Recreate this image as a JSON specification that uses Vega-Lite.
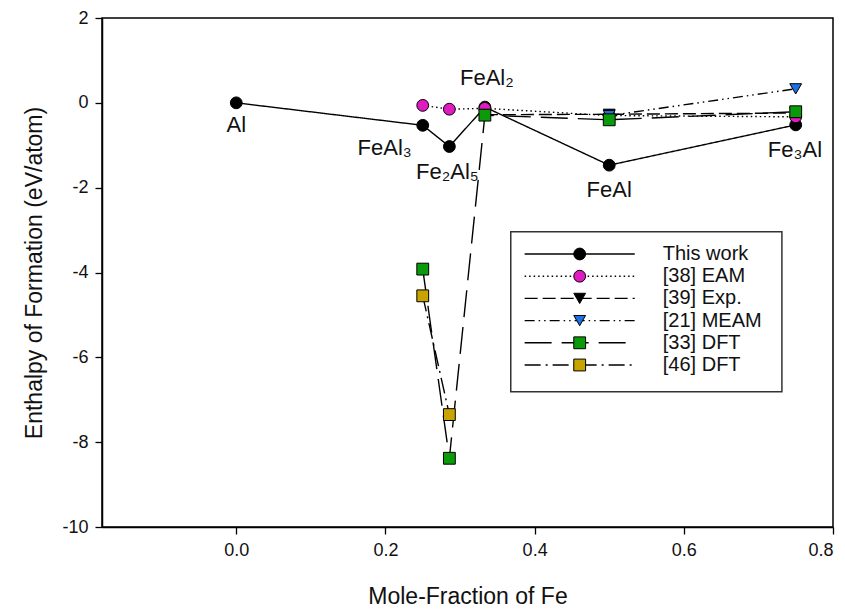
{
  "$schema": "https://vega.github.io/schema/vega-lite/v6.json",
  "width": 731,
  "height": 509,
  "autosize": {"type": "none"},
  "padding": {"left": 102, "top": 18, "right": 12, "bottom": 86},
  "background": "white",
  "config": {
    "view": {"stroke": "black", "strokeWidth": 1.5},
    "font": "Liberation Sans",
    "axis": {
      "grid": false,
      "domainColor": "black",
      "domainWidth": 1.5,
      "tickColor": "black",
      "tickWidth": 1.3,
      "tickSize": 7,
      "labelFont": "Liberation Sans",
      "labelFontSize": 18,
      "labelColor": "#111",
      "titleFont": "Liberation Sans",
      "titleFontSize": 23,
      "titleFontWeight": "normal",
      "titleColor": "#111"
    }
  },
  "datasets": {
    "main": [
      {"series": "This work", "x": 0, "y": 0},
      {"series": "This work", "x": 0.25, "y": -0.53},
      {"series": "This work", "x": 0.2857, "y": -1.03},
      {"series": "This work", "x": 0.3333, "y": -0.1},
      {"series": "This work", "x": 0.5, "y": -1.47},
      {"series": "This work", "x": 0.75, "y": -0.52},
      {"series": "[38] EAM", "x": 0.25, "y": -0.06},
      {"series": "[38] EAM", "x": 0.2857, "y": -0.15},
      {"series": "[38] EAM", "x": 0.3333, "y": -0.13},
      {"series": "[38] EAM", "x": 0.5, "y": -0.3},
      {"series": "[38] EAM", "x": 0.75, "y": -0.33},
      {"series": "[39] Exp.", "x": 0.3333, "y": -0.28},
      {"series": "[39] Exp.", "x": 0.5, "y": -0.27},
      {"series": "[39] Exp.", "x": 0.75, "y": -0.24},
      {"series": "[21] MEAM", "x": 0.5, "y": -0.3},
      {"series": "[21] MEAM", "x": 0.75, "y": 0.33},
      {"series": "[33] DFT", "x": 0.25, "y": -3.92},
      {"series": "[33] DFT", "x": 0.2857, "y": -8.38},
      {"series": "[33] DFT", "x": 0.3333, "y": -0.29},
      {"series": "[33] DFT", "x": 0.5, "y": -0.4},
      {"series": "[33] DFT", "x": 0.75, "y": -0.21},
      {"series": "[46] DFT", "x": 0.25, "y": -4.55},
      {"series": "[46] DFT", "x": 0.2857, "y": -7.35}
    ],
    "labels": [
      {"label": "Al", "x": 0, "y": -0.52},
      {"label": "FeAl₃", "x": 0.199, "y": -1.06},
      {"label": "Fe₂Al₅", "x": 0.283, "y": -1.63},
      {"label": "FeAl₂", "x": 0.336, "y": 0.59},
      {"label": "FeAl", "x": 0.5, "y": -2.05},
      {"label": "Fe₃Al", "x": 0.749, "y": -1.11}
    ],
    "legend": [
      {"series": "This work"},
      {"series": "[38] EAM"},
      {"series": "[39] Exp."},
      {"series": "[21] MEAM"},
      {"series": "[33] DFT"},
      {"series": "[46] DFT"}
    ]
  },
  "layer": [
    {
      "layer": [
        {
          "data": {"name": "main"},
          "mark": {"type": "line", "color": "black", "strokeWidth": 1.4},
          "encoding": {
            "x": {"field": "x", "type": "quantitative", "scale": {"domain": [-0.18, 0.8], "nice": false, "zero": false},
                  "axis": {"values": [0, 0.2, 0.4, 0.6, 0.8], "format": ".1f", "title": "Mole-Fraction of Fe", "labelPadding": 7, "titlePadding": 26}},
            "y": {"field": "y", "type": "quantitative", "scale": {"domain": [-10, 2], "nice": false, "zero": false},
                  "axis": {"values": [-10, -8, -6, -4, -2, 0, 2], "labelExpr": "'' + datum.value", "title": "Enthalpy of Formation (eV/atom)", "labelPadding": 7, "titlePadding": 15}},
            "strokeDash": {"field": "series", "type": "nominal", "legend": null,
              "scale": {"domain": ["This work", "[38] EAM", "[39] Exp.", "[21] MEAM", "[33] DFT", "[46] DFT"],
                        "range": [[1, 0], [1.5, 3], [13, 5], [10, 4, 1.5, 4, 1.5, 4], [27, 10], [16, 5, 2, 5]]}}
          }
        },
        {
          "data": {"name": "main"},
          "mark": {"type": "point", "filled": true, "stroke": "black", "strokeWidth": 1, "opacity": 1, "size": 140},
          "encoding": {
            "x": {"field": "x", "type": "quantitative"},
            "y": {"field": "y", "type": "quantitative"},
            "shape": {"field": "series", "type": "nominal", "legend": null,
              "scale": {"domain": ["This work", "[38] EAM", "[39] Exp.", "[21] MEAM", "[33] DFT", "[46] DFT"],
                        "range": ["circle", "circle", "triangle-down", "triangle-down", "square", "square"]}},
            "fill": {"field": "series", "type": "nominal", "legend": null,
              "scale": {"domain": ["This work", "[38] EAM", "[39] Exp.", "[21] MEAM", "[33] DFT", "[46] DFT"],
                        "range": ["#000000", "#e01cc0", "#000000", "#1f6fe5", "#0a9a0a", "#c8a400"]}}
          }
        },
        {
          "data": {"name": "labels"},
          "mark": {"type": "text", "font": "Liberation Sans", "fontSize": 22, "color": "#111", "align": "center", "baseline": "middle"},
          "encoding": {
            "x": {"field": "x", "type": "quantitative"},
            "y": {"field": "y", "type": "quantitative"},
            "text": {"field": "label", "type": "nominal"}
          }
        },
        {
          "data": {"values": [{}]},
          "mark": {"type": "rect", "fill": "white", "stroke": "#333", "strokeWidth": 1.5},
          "encoding": {
            "x": {"datum": 0.368, "type": "quantitative"},
            "x2": {"datum": 0.7315},
            "y": {"datum": -3.04, "type": "quantitative"},
            "y2": {"datum": -6.81}
          }
        }
      ]
    },
    {
      "data": {"name": "legend"},
      "layer": [
        {
          "mark": {"type": "rule", "color": "black", "strokeWidth": 1.4},
          "encoding": {
            "x": {"datum": 0.3866, "type": "quantitative"},
            "x2": {"datum": 0.5342},
            "y": {"field": "series", "type": "nominal", "axis": null,
                  "scale": {"type": "point", "domain": ["This work", "[38] EAM", "[39] Exp.", "[21] MEAM", "[33] DFT", "[46] DFT"], "range": [236, 347], "padding": 0}},
            "strokeDash": {"field": "series", "type": "nominal", "legend": null}
          }
        },
        {
          "mark": {"type": "point", "filled": true, "stroke": "black", "strokeWidth": 1, "opacity": 1, "size": 140},
          "encoding": {
            "x": {"datum": 0.4604, "type": "quantitative"},
            "y": {"field": "series", "type": "nominal", "axis": null},
            "shape": {"field": "series", "type": "nominal", "legend": null},
            "fill": {"field": "series", "type": "nominal", "legend": null}
          }
        },
        {
          "mark": {"type": "text", "font": "Liberation Sans", "fontSize": 20, "color": "#111", "align": "left", "baseline": "middle"},
          "encoding": {
            "x": {"datum": 0.5718, "type": "quantitative"},
            "y": {"field": "series", "type": "nominal", "axis": null},
            "text": {"field": "series", "type": "nominal"}
          }
        }
      ]
    }
  ],
  "resolve": {"scale": {"y": "independent"}}
}
